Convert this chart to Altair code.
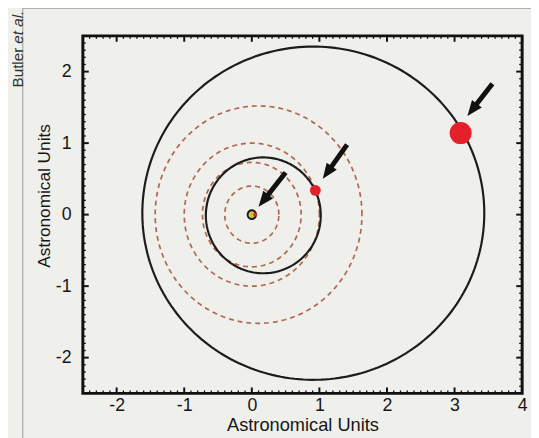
import numpy as np
import pandas as pd
import altair as alt

# ---------------- data ----------------
# dashed reference orbits (solar system planets)
solar_names = ["Mercury", "Venus", "Earth", "Mars"]
solar_cx = [0.0, 0.0, 0.0, 0.10]
solar_a = [0.40, 0.73, 1.00, 1.53]
solar_b = [0.40, 0.73, 1.00, 1.52]

# solid orbits (Upsilon Andromedae b, c, d)
orbit_names = ["b", "c", "d"]
orbit_cx = [0.0, 0.17, 0.91]
orbit_cy = [0.0, -0.01, 0.02]
orbit_a = [0.06, 0.85, 2.53]
orbit_b = [0.06, 0.81, 2.33]

# planets
planet_names = ["b", "c", "d"]
planet_x = [0.05, 0.94, 3.09]
planet_y = [0.00, 0.34, 1.14]
planet_size = [16, 121, 500]

# star
star_x = [0.0]
star_y = [0.0]

# arrows (tail -> tip)
arrow_names = ["b", "c", "d"]
arrow_tail_x = [0.50, 1.41, 3.56]
arrow_tail_y = [0.59, 0.98, 1.83]
arrow_tip_x = [0.10, 1.05, 3.19]
arrow_tip_y = [0.11, 0.50, 1.38]

# axes
x_ticks = [-2, -1, 0, 1, 2, 3, 4]
y_ticks = [-2, -1, 0, 1, 2]
x_domain = [-2.5, 4.0]
y_domain = [-2.5, 2.5]

# ---------------- layout ----------------
W, H = 446, 363
FONT = "Liberation Sans"
TXT = "#161616"
BG = "#efefeb"

def ellipse_rows(name, cx, cy, a, b, n=240):
    t = np.linspace(0, 2 * np.pi, n)
    return pd.DataFrame({"x": cx + a * np.cos(t), "y": cy + b * np.sin(t),
                         "name": name, "order": np.arange(n)})

solar_df = pd.concat([ellipse_rows(n, cx, 0.0, a, b)
                      for n, cx, a, b in zip(solar_names, solar_cx, solar_a, solar_b)])
orbit_df = pd.concat([ellipse_rows(n, cx, cy, a, b)
                      for n, cx, cy, a, b in zip(orbit_names, orbit_cx, orbit_cy, orbit_a, orbit_b)])
planet_df = pd.DataFrame({"x": planet_x, "y": planet_y, "name": planet_names, "s": planet_size})
star_df = pd.DataFrame({"x": star_x, "y": star_y})

shaft_rows = []
head_rows = []
px_per_x = W / (x_domain[1] - x_domain[0])
px_per_y = H / (y_domain[1] - y_domain[0])
for n, tx, ty, hx, hy in zip(arrow_names, arrow_tail_x, arrow_tail_y, arrow_tip_x, arrow_tip_y):
    nx = hx + 0.3 * (tx - hx)
    ny = hy + 0.3 * (ty - hy)
    shaft_rows.append({"x": tx, "y": ty, "name": n, "order": 0})
    shaft_rows.append({"x": nx, "y": ny, "name": n, "order": 1})
    dxp = (hx - tx) * px_per_x
    dyp = -(hy - ty) * px_per_y
    ang = float(np.degrees(np.arctan2(dxp, -dyp))) % 360
    head_rows.append({"x": hx, "y": hy, "name": n, "ang": ang})
shaft_df = pd.DataFrame(shaft_rows)
head_df = pd.DataFrame(head_rows)

minor_x = [round(v, 1) for v in np.arange(-2.4, 4.0, 0.1) if abs(v - round(v)) > 1e-6]
minor_y = [round(v, 1) for v in np.arange(-2.4, 2.5, 0.1) if abs(v - round(v)) > 1e-6]
majx_df = pd.DataFrame({"x": x_ticks})
majy_df = pd.DataFrame({"y": y_ticks})
minx_df = pd.DataFrame({"x": minor_x})
miny_df = pd.DataFrame({"y": minor_y})

xscale = alt.Scale(domain=x_domain, nice=False, zero=False)
yscale = alt.Scale(domain=y_domain, nice=False, zero=False)
xaxis = alt.Axis(values=x_ticks, ticks=False, domain=False, grid=False, labelFlush=False,
                 labelExpr="'' + datum.value",
                 labelFontSize=18, labelPadding=3, labelColor=TXT, labelFont=FONT,
                 title="Astronomical Units", titleFontSize=18.5, titleFont=FONT,
                 titleColor=TXT, titleFontWeight="normal", titlePadding=2)
yaxis = alt.Axis(values=y_ticks, ticks=False, domain=False, grid=False, labelFlush=False,
                 labelExpr="'' + datum.value",
                 labelFontSize=18, labelPadding=12, labelColor=TXT, labelFont=FONT,
                 title="Astronomical Units", titleFontSize=17.5, titleFont=FONT,
                 titleColor=TXT, titleFontWeight="normal", titlePadding=2, titleY=162)

def X(f="x"):
    return alt.X(f, type="quantitative", scale=xscale, axis=xaxis)

def Y(f="y"):
    return alt.Y(f, type="quantitative", scale=yscale, axis=yaxis)

solar = alt.Chart(solar_df).mark_line(color="#b0664e", strokeWidth=1.7, strokeDash=[5, 4]).encode(
    x=X(), y=Y(), detail="name:N", order="order:Q")
orbits = alt.Chart(orbit_df).mark_line(color="#1c1c1c", strokeWidth=2.2).encode(
    x=X(), y=Y(), detail="name:N", order="order:Q")
star = alt.Chart(star_df).mark_circle(color="#d9c21a", size=30, opacity=1).encode(x=X(), y=Y())
planets = alt.Chart(planet_df).mark_circle(color="#e3202b", opacity=1).encode(
    x=X(), y=Y(), size=alt.Size("s:Q", scale=None, legend=None))
shafts = alt.Chart(shaft_df).mark_line(color="#111111", strokeWidth=5, strokeCap="butt").encode(
    x=X(), y=Y(), detail="name:N", order="order:Q")
heads = alt.Chart(head_df).mark_point(shape="M0,0L-0.6,1.5L0.6,1.5Z", filled=True, size=440,
                                      color="#111111", opacity=1, strokeWidth=0).encode(
    x=X(), y=Y(), angle=alt.Angle("ang:Q", scale=None))

def tick_layers():
    layers = []
    for df, ln, sw in [(majx_df, 6, 2), (minx_df, 3, 1.3)]:
        layers.append(alt.Chart(df).mark_rule(color="#111", strokeWidth=sw).encode(
            x=X(), y=alt.value(H), y2=alt.value(H - ln)))
        layers.append(alt.Chart(df).mark_rule(color="#111", strokeWidth=sw).encode(
            x=X(), y=alt.value(0), y2=alt.value(ln)))
    for df, ln, sw in [(majy_df, 6, 2), (miny_df, 3, 1.3)]:
        layers.append(alt.Chart(df).mark_rule(color="#111", strokeWidth=sw).encode(
            y=Y(), x=alt.value(0), x2=alt.value(ln)))
        layers.append(alt.Chart(df).mark_rule(color="#111", strokeWidth=sw).encode(
            y=Y(), x=alt.value(W), x2=alt.value(W - ln)))
    return layers

one = pd.DataFrame({"a": [0]})
frame_v = alt.Chart(one).mark_rule(color="#9a9a9a", strokeWidth=1).encode(
    x=alt.value(-61), y=alt.value(-28), y2=alt.value(420))
frame_h = alt.Chart(one).mark_rule(color="#9a9a9a", strokeWidth=1).encode(
    x=alt.value(-61), x2=alt.value(470), y=alt.value(-28))
credit1 = alt.Chart(one).mark_text(text="Butler", angle=270, align="right", baseline="middle",
                                   font=FONT, fontSize=15.5, color="#333333").encode(
    x=alt.value(-66), y=alt.value(12))
credit2 = alt.Chart(one).mark_text(text="et al.", angle=270, align="left", baseline="middle",
                                   font=FONT, fontSize=15.5, fontStyle="italic", color="#333333").encode(
    x=alt.value(-66), y=alt.value(8))

chart = alt.layer(
    frame_v, frame_h, credit1, credit2,
    solar, orbits, star, planets, shafts, heads, *tick_layers()
).properties(
    width=W, height=H,
    padding={"left": 76, "top": 25, "right": 9, "bottom": 42},
    autosize=alt.AutoSizeParams(type="none"),
    background=BG,
).configure_view(stroke="#111111", strokeWidth=3)

chart.save("out.html", embed_options={"renderer": "svg", "actions": False})
